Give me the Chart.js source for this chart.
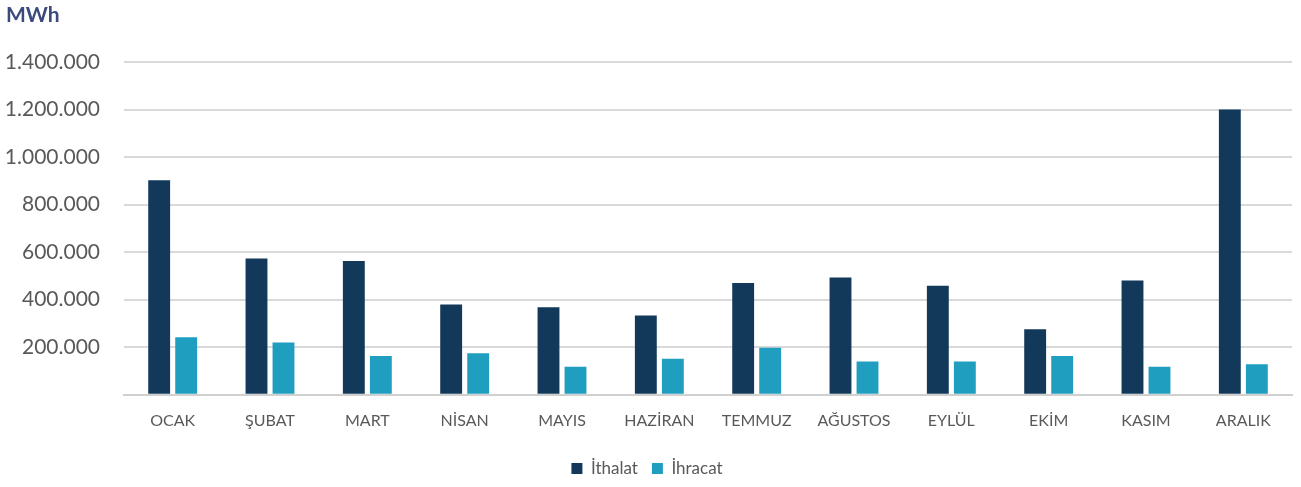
<!DOCTYPE html>
<html>
<head>
<meta charset="utf-8">
<script src="https://cdn.jsdelivr.net/npm/chart.js@4.4.1/dist/chart.umd.min.js"></script>
<style>
  html, body { margin: 0; padding: 0; background: #ffffff; }
  #wrap { position: relative; width: 1301px; height: 487px; }
</style>
</head>
<body>
<div id="wrap"><canvas id="chart" width="1301" height="487"></canvas></div>
<script>
/* ======================
   DATA
====================== */
const months = ["OCAK", "ŞUBAT", "MART", "NİSAN", "MAYIS", "HAZİRAN",
  "TEMMUZ", "AĞUSTOS", "EYLÜL", "EKİM", "KASIM", "ARALIK"];
const ithalat = [903000, 573000, 563000, 380000, 368000, 334000,
  470000, 493000, 459000, 276000, 481000, 1200000];
const ihracat = [242000, 220000, 163000, 175000, 118000, 152000,
  198000, 140000, 140000, 163000, 118000, 129000];
const unitLabel = "MWh";
const seriesNames = ["İthalat", "İhracat"];

const FONT = "Lato, 'Open Sans', sans-serif";

// Turkish style thousands: 1.400.000
function fmt(v) {
  return String(v).replace(/\B(?=(\d{3})+(?!\d))/g, ".");
}

/* ======================
   UNIT LABEL
====================== */
const unitPlugin = {
  id: "unit",
  afterDraw(chart) {
    const ctx = chart.ctx;
    ctx.save();
    ctx.font = "bold 21px " + FONT;
    ctx.fillStyle = "#3b4a7c";
    ctx.textBaseline = "top";
    ctx.fillText(unitLabel, 6, 5);
    ctx.restore();
  }
};

/* ======================
   CHART
====================== */
new Chart(document.getElementById("chart"), {
  type: "bar",
  data: {
    labels: months,
    datasets: [
      {
        label: seriesNames[0],
        data: ithalat,
        backgroundColor: "#12385a",
        categoryPercentage: 0.555,
        barPercentage: 0.81
      },
      {
        label: seriesNames[1],
        data: ihracat,
        backgroundColor: "#1f9ec0",
        categoryPercentage: 0.555,
        barPercentage: 0.81
      }
    ]
  },
  options: {
    responsive: false,
    animation: false,
    layout: { padding: { left: 2, right: 9, top: 62, bottom: 0 } },
    plugins: {
      legend: {
        position: "bottom",
        labels: {
          font: { family: FONT, size: 17 },
          color: "#595959",
          boxWidth: 11,
          boxHeight: 11,
          padding: 14
        }
      },
      tooltip: { enabled: false }
    },
    scales: {
      x: {
        afterFit(scale) { scale.height += 8; },
        grid: { display: false },
        border: { color: "#d0d0d0", width: 2 },
        ticks: {
          font: { family: FONT, size: 16 },
          color: "#595959",
          padding: 8,
          maxRotation: 0
        }
      },
      y: {
        min: 0,
        max: 1400000,
        afterFit(scale) { scale.width = 122; },
        grid: { color: "#d9d9d9", lineWidth: 2, drawTicks: false },
        border: { display: false },
        ticks: {
          stepSize: 200000,
          font: { family: FONT, size: 21 },
          color: "#595959",
          padding: 24,
          callback: v => v === 0 ? "" : fmt(v)
        }
      }
    }
  },
  plugins: [unitPlugin]
});
</script>
</body>
</html>
